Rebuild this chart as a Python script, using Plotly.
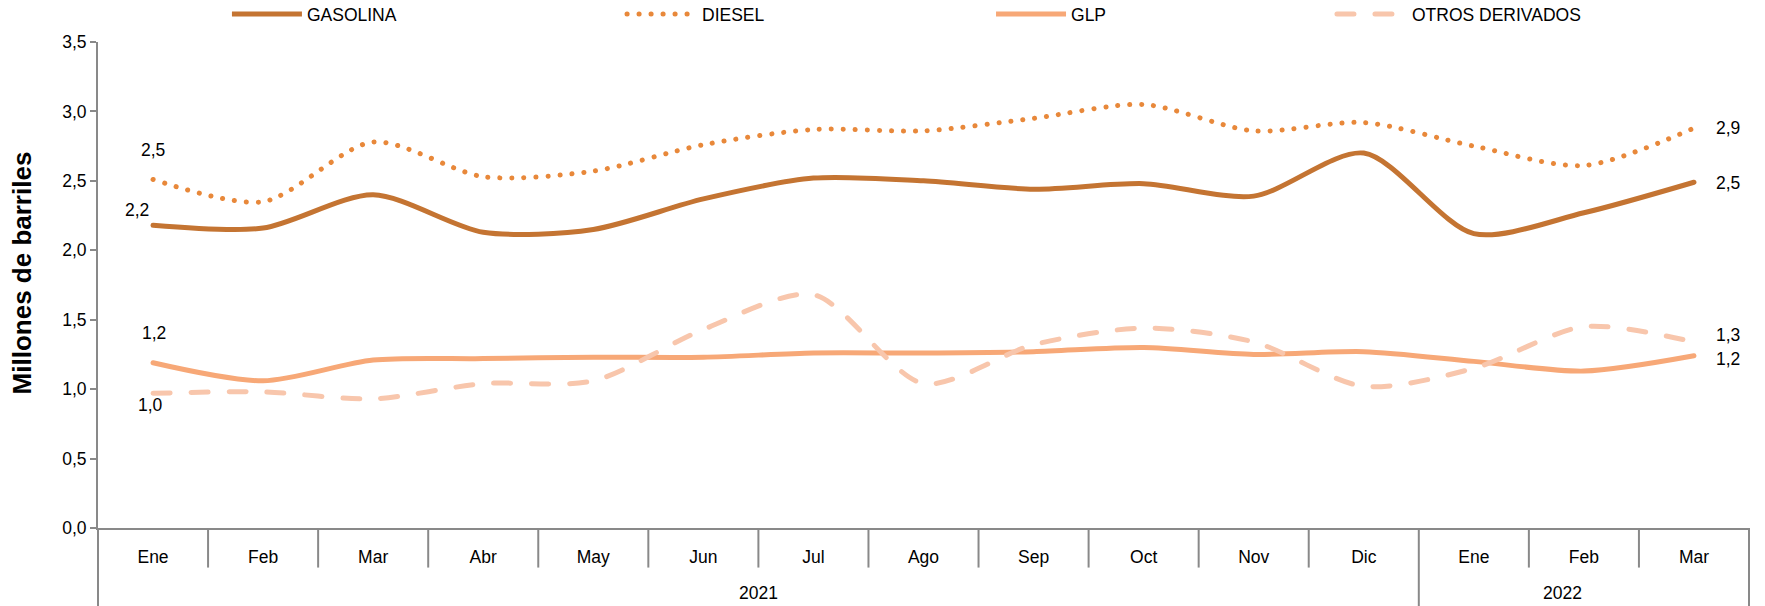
import plotly.graph_objects as go

years = ["2021"] * 12 + ["2022"] * 3
months = ["Ene", "Feb", "Mar", "Abr", "May", "Jun", "Jul", "Ago", "Sep", "Oct", "Nov", "Dic", "Ene", "Feb", "Mar"]

gasolina = [2.18, 2.16, 2.40, 2.13, 2.15, 2.37, 2.52, 2.50, 2.44, 2.48, 2.39, 2.70, 2.12, 2.27, 2.49]
diesel = [2.51, 2.35, 2.78, 2.53, 2.57, 2.76, 2.87, 2.86, 2.95, 3.05, 2.86, 2.92, 2.75, 2.61, 2.88]
glp = [1.19, 1.06, 1.21, 1.22, 1.23, 1.23, 1.26, 1.26, 1.27, 1.30, 1.25, 1.27, 1.20, 1.13, 1.24]
otros = [0.97, 0.98, 0.93, 1.04, 1.06, 1.43, 1.68, 1.04, 1.32, 1.44, 1.34, 1.02, 1.15, 1.45, 1.34]

series_names = ["GASOLINA", "DIESEL", "GLP", "OTROS DERIVADOS"]
series_values = [gasolina, diesel, glp, otros]
y_title = "Millones de barriles"

FONT = "Liberation Sans, Arial, sans-serif"
FS = 17.5
AXIS_COLOR = "#898989"
styles = [
    dict(color="#C47432", width=5, dash="solid"),
    dict(color="#E8883A", width=5, dash="0.1px,11.9px"),
    dict(color="#F7A877", width=5, dash="solid"),
    dict(color="#F8C6AC", width=5, dash="17px,21px"),
]
# label offsets (px) for first and last points: (dx, dy) with dy positive = down
first_off = [(-16, -15), (0, -29), (1, -30), (-3, 12)]
last_off = [(34, 1), (34, 0), (34, 3), (34, -7)]
# legend entry positions (paper x)
legend_x = [0.0781, 0.3174, 0.5409, 0.7474]

# unique category keys, displayed with month labels
cats = [f"{y}-{m}" for y, m in zip(years, months)]
n = len(cats)

fig = go.Figure()
for i, (name, vals, st) in enumerate(zip(series_names, series_values, styles)):
    fig.add_trace(go.Scatter(
        x=cats, y=vals, name=name, mode="lines",
        legend="legend" if i == 0 else f"legend{i + 1}",
        line=dict(color=st["color"], width=st["width"], dash=st["dash"], shape="spline", smoothing=0.8),
    ))

def fmt(v):
    return f"{v:.1f}".replace(".", ",")

ann = []
for vals, fo, lo in zip(series_values, first_off, last_off):
    ann.append(dict(x=cats[0], y=vals[0], text=fmt(vals[0]), xref="x", yref="y",
                    showarrow=False, xshift=fo[0], yshift=-fo[1],
                    font=dict(family=FONT, size=FS, color="#000")))
    ann.append(dict(x=cats[-1], y=vals[-1], text=fmt(vals[-1]), xref="x", yref="y",
                    showarrow=False, xshift=lo[0], yshift=-lo[1],
                    font=dict(family=FONT, size=FS, color="#000")))

unique_years = list(dict.fromkeys(years))
for yv in unique_years:
    idx = [i for i, y in enumerate(years) if y == yv]
    center = (idx[0] + idx[-1] + 1) / 2 / n
    ann.append(dict(x=center, y=-0.1329, xref="x domain", yref="paper", text=yv, showarrow=False,
                    yanchor="middle", font=dict(family=FONT, size=FS, color="#000")))

ann.append(dict(x=-0.046, y=0.524, xref="paper", yref="paper", text=f"<b>{y_title}</b>",
                textangle=-90, showarrow=False, xanchor="center", yanchor="middle",
                font=dict(family=FONT, size=26, color="#000")))

# category separators: long ones at edges / year boundaries, short ones between months
year_starts = {years.index(yv) for yv in unique_years[1:]}
shapes = []
for k in range(n + 1):
    long_line = k == 0 or k == n or k in year_starts
    shapes.append(dict(type="line", xref="x domain", yref="paper", x0=k / n, x1=k / n,
                       y0=0, y1=-0.1607 if long_line else -0.0814,
                       line=dict(color=AXIS_COLOR, width=2)))

legends = {}
for i, lx in enumerate(legend_x):
    key = "legend" if i == 0 else f"legend{i + 1}"
    legends[key] = dict(orientation="h", x=lx, xanchor="left", y=1.0573, yanchor="middle",
                        itemwidth=70, font=dict(family=FONT, size=FS, color="#000"),
                        bgcolor="rgba(0,0,0,0)")

fig.update_layout(
    width=1765, height=606,
    margin=dict(l=98, r=16, t=42, b=78, autoexpand=False),
    paper_bgcolor="white", plot_bgcolor="white",
    separators=",.",
    font=dict(family=FONT, size=FS, color="#000"),
    showlegend=True,
    annotations=ann,
    shapes=shapes,
    **legends,
)
fig.update_xaxes(
    type="category", automargin=False, range=[-0.5, n - 0.5],
    tickmode="array", tickvals=cats, ticktext=months,
    showline=True, linecolor=AXIS_COLOR, linewidth=2,
    ticks="", ticklabelstandoff=12,
    showgrid=False, zeroline=False,
    tickfont=dict(family=FONT, size=FS, color="#000"),
)
fig.update_yaxes(
    range=[0, 3.5], dtick=0.5, tickformat=".1f", automargin=False,
    showline=True, linecolor=AXIS_COLOR, linewidth=2,
    ticks="outside", ticklen=6, tickcolor=AXIS_COLOR, tickwidth=2,
    showgrid=False, zeroline=False,
    tickfont=dict(family=FONT, size=FS, color="#000"),
)

post = (
    "document.body.style.margin='0';"
    "document.querySelectorAll('path.js-line').forEach(function(p){"
    "var d=p.style.strokeDasharray;"
    "if(p.closest('.scatterlayer')||(d&&d!=='none')){p.style.strokeLinecap='round';}"
    "});"
)
fig.write_html("out.html", config={"displayModeBar": False}, post_script=post)
